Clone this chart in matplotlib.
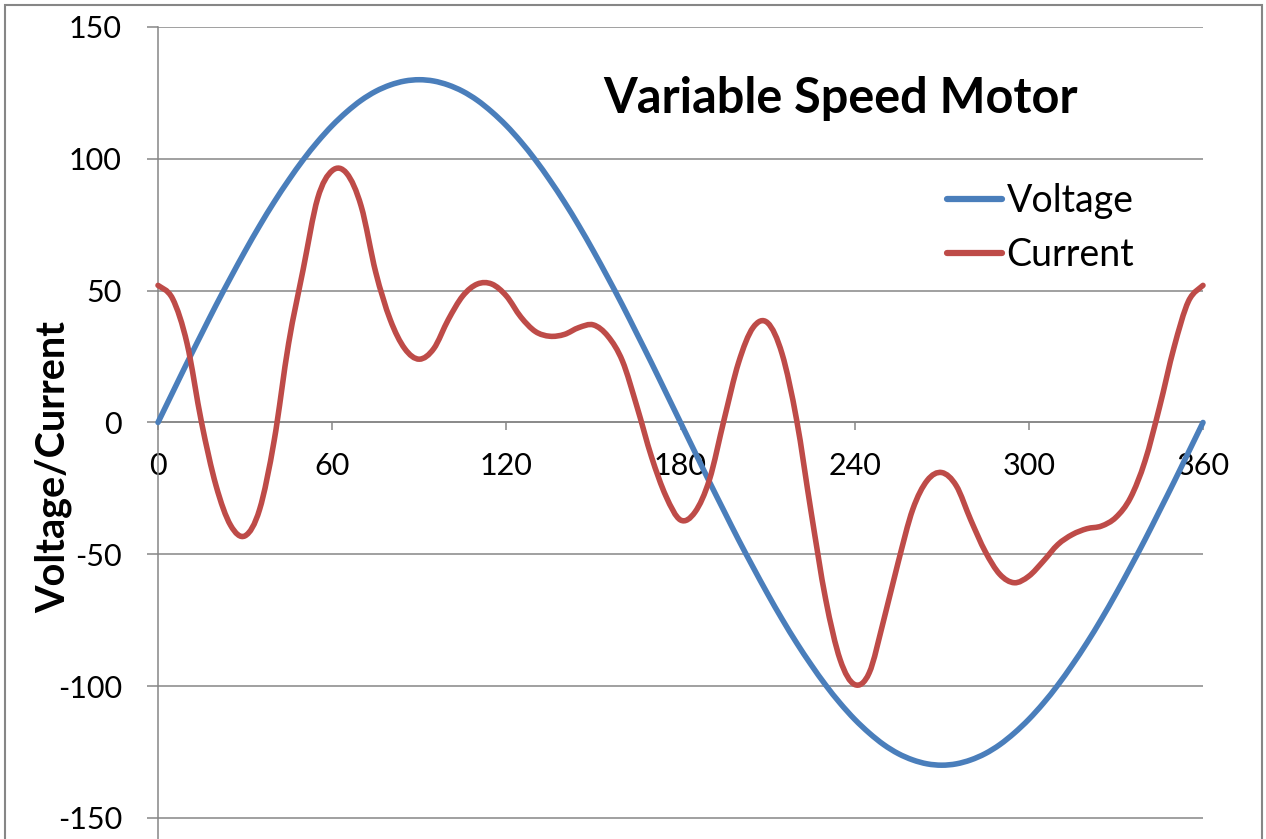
import numpy as np
import matplotlib
matplotlib.use("Agg")
import matplotlib.pyplot as plt
from matplotlib.path import Path
from matplotlib.patches import PathPatch, Rectangle
from matplotlib.lines import Line2D

plt.rcParams["font.family"] = ["Lato", "DejaVu Sans"]
plt.rcParams["axes.unicode_minus"] = False

# angle in degrees, one reading every 5 degrees
angle = list(range(0, 361, 5))

voltage = [
    0, 11.3, 22.6, 33.6, 44.5, 54.9, 65.0, 74.6, 83.6, 91.9, 99.6, 106.5, 112.6, 117.8, 122.2, 125.6, 128.0, 129.5,
    130, 129.5, 128.0, 125.6, 122.2, 117.8, 112.6, 106.5, 99.6, 91.9, 83.6, 74.6, 65.0, 54.9, 44.5, 33.6, 22.6, 11.3,
    0, -11.3, -22.6, -33.6, -44.5, -54.9, -65.0, -74.6, -83.6, -91.9, -99.6, -106.5, -112.6, -117.8, -122.2, -125.6, -128.0, -129.5,
    -130, -129.5, -128.0, -125.6, -122.2, -117.8, -112.6, -106.5, -99.6, -91.9, -83.6, -74.6, -65.0, -54.9, -44.5, -33.6, -22.6, -11.3,
    0,
]

current = [
    52, 47, 30, 0, -24, -39, -43, -33, -7, 30, 58, 85, 95.5, 94.5, 82, 57, 39, 28,
    24, 28, 39, 48, 52.5, 52.5, 48, 40, 34.5, 32.7, 33.4, 36, 37, 32.7, 23.3, 6, -13, -28,
    -37, -34, -21.6, 1, 22.7, 36, 37.8, 26, 1, -34, -67, -90, -99.4, -95, -75, -53, -33, -22,
    -19, -24, -37, -49, -57.6, -60.8, -58.3, -52.6, -46.3, -42.5, -40.3, -39.3, -36, -28.6, -14.7, 5.7, 28.4, 46,
    52,
]

series_names = ["Voltage", "Current"]
series_colors = ["#4A7EBB", "#BE4B48"]
x_ticks = [0, 60, 120, 180, 240, 300, 360]
y_ticks = [-150, -100, -50, 0, 50, 100, 150]

GRID = "#868686"


def smooth_path(xs, ys):
    # excel style smoothed line: catmull-rom segments drawn as cubic beziers
    x = np.asarray(xs, float)
    y = np.asarray(ys, float)
    px = np.r_[x[0], x, x[-1]]
    py = np.r_[y[0], y, y[-1]]
    verts = [(x[0], y[0])]
    codes = [Path.MOVETO]
    for i in range(len(x) - 1):
        p0 = np.array([px[i], py[i]])
        p1 = np.array([px[i + 1], py[i + 1]])
        p2 = np.array([px[i + 2], py[i + 2]])
        p3 = np.array([px[i + 3], py[i + 3]])
        c1 = p1 + (p2 - p0) / 6.0
        c2 = p2 - (p3 - p1) / 6.0
        verts += [tuple(c1), tuple(c2), tuple(p2)]
        codes += [Path.CURVE4] * 3
    return Path(verts, codes)


fig = plt.figure(figsize=(12.66, 8.39), dpi=100)
ax = fig.add_axes([158 / 1266, 0.0, 1045 / 1266, 812 / 839])

ax.set_xlim(0, 360)
ax.set_ylim(-158, 150)

for vals, color in zip([voltage, current], series_colors):
    patch = PathPatch(smooth_path(angle, vals), fill=False, edgecolor=color,
                      lw=4.0, capstyle="round", joinstyle="round", clip_on=False, zorder=3)
    ax.add_patch(patch)

ax.set_yticks(y_ticks)
ax.set_xticks(x_ticks)
ax.yaxis.grid(True, color=GRID, lw=1.1)
ax.set_axisbelow(True)

for side in ["top", "right"]:
    ax.spines[side].set_visible(False)
ax.spines["bottom"].set_position(("data", 0))
ax.spines["bottom"].set_color(GRID)
ax.spines["bottom"].set_linewidth(1.1)
ax.spines["left"].set_color(GRID)
ax.spines["left"].set_linewidth(1.1)

ax.tick_params(axis="x", direction="out", length=6, width=1.1, color=GRID,
               pad=15, labelsize=22)
ax.tick_params(axis="y", direction="out", length=8, width=1.1, color=GRID,
               pad=18, labelsize=22)

ax.set_ylabel("Voltage/Current", fontsize=28.5, fontweight="bold", va="center")
ax.yaxis.set_label_coords(-0.1, 0.458)

fig.text(841 / 1266, 1 - 113 / 839, "Variable Speed Motor", fontsize=35,
         fontweight="bold", ha="center", va="baseline")

handles = [Line2D([], [], color=c, lw=4.5, solid_capstyle="round") for c in series_colors]
ax.legend(handles, series_names, loc="upper left", bbox_to_anchor=(947 / 1266, 1 - 183 / 839),
          bbox_transform=fig.transFigure, frameon=False, borderpad=0, borderaxespad=0,
          handlelength=1.47, handletextpad=0.12, labelspacing=0.49, fontsize=27)

# outer chart border
fig.add_artist(Rectangle((5 / 1266, -0.05), 1257 / 1266, 1.05 - 5 / 839,
                         transform=fig.transFigure, fill=False, edgecolor=GRID, lw=1.5))

fig.savefig("out.png", dpi=100)
